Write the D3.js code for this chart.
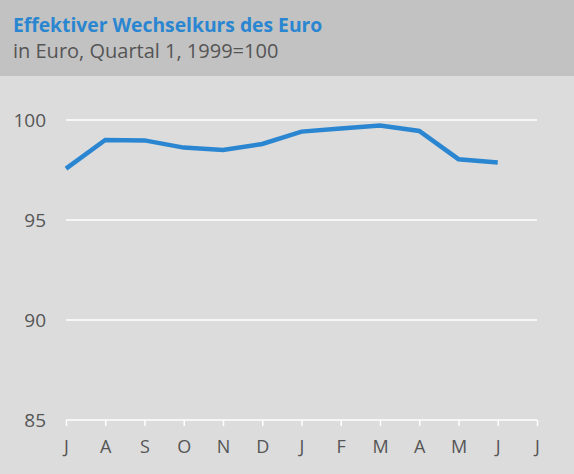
<!DOCTYPE html>
<html>
<head>
<meta charset="utf-8">
<script src="https://cdn.jsdelivr.net/npm/d3@7"></script>
<style>
  body { margin: 0; background: #dcdcdc; }
  text { font-family: "Open Sans", "Noto Sans", sans-serif; }
</style>
</head>
<body>
<div id="chart"></div>
<script>
// chart data
var months = ["J", "A", "S", "O", "N", "D", "J", "F", "M", "A", "M", "J", "J"];
var values = [97.57, 99.0, 98.98, 98.62, 98.5, 98.8, 99.42, 99.57, 99.73, 99.45, 98.04, 97.87];
var yTicks = [85, 90, 95, 100];

var svgWidth = 574;
var svgHeight = 474;

var margin = { top: 120, right: 37, bottom: 54, left: 66 };
var width = svgWidth - margin.left - margin.right;
var height = svgHeight - margin.top - margin.bottom;

var svg = d3.select("#chart")
  .append("svg")
  .attr("width", svgWidth)
  .attr("height", svgHeight);

// background + header band
svg.append("rect")
  .attr("width", svgWidth)
  .attr("height", svgHeight)
  .attr("fill", "#dcdcdc");

svg.append("rect")
  .attr("width", svgWidth)
  .attr("height", 76)
  .attr("fill", "#c2c2c2");

svg.append("text")
  .attr("x", 13)
  .attr("y", 31.5)
  .attr("fill", "#2a86d1")
  .attr("font-size", "19.3px")
  .attr("font-weight", "bold")
  .text("Effektiver Wechselkurs des Euro");

svg.append("text")
  .attr("x", 13)
  .attr("y", 58)
  .attr("fill", "#555")
  .attr("font-size", "20px")
  .text("in Euro, Quartal 1, 1999=100");

var chartGroup = svg.append("g")
  .attr("transform", `translate(${margin.left}, ${margin.top})`);

// scales
var xScale = d3.scalePoint()
  .domain(d3.range(months.length))
  .range([0, width]);

var yScale = d3.scaleLinear()
  .domain([85, 100])
  .range([height, 0]);

// gridlines
chartGroup.selectAll(".grid")
  .data(yTicks)
  .enter()
  .append("line")
  .attr("x1", 0)
  .attr("x2", width)
  .attr("y1", d => yScale(d))
  .attr("y2", d => yScale(d))
  .attr("stroke", "#fff")
  .attr("stroke-width", 1.5);

// y labels
chartGroup.selectAll(".ylab")
  .data(yTicks)
  .enter()
  .append("text")
  .attr("x", -20)
  .attr("y", d => yScale(d))
  .attr("dy", "0.36em")
  .attr("text-anchor", "end")
  .attr("fill", "#555")
  .attr("font-size", "19px")
  .text(d => d);

// x axis
var bottomAxis = d3.axisBottom(xScale)
  .tickSize(6)
  .tickPadding(14)
  .tickFormat(i => months[i]);

var xAxis = chartGroup.append("g")
  .attr("transform", `translate(0, ${height})`)
  .call(bottomAxis);

xAxis.select(".domain").remove();
xAxis.selectAll("line").attr("stroke", "#fff").attr("stroke-width", 1.5);
xAxis.selectAll("text")
  .attr("fill", "#555")
  .attr("font-size", "18px")
  .style("font-family", "'Open Sans', 'Noto Sans', sans-serif");

// data line
var line = d3.line()
  .x((d, i) => xScale(i))
  .y(d => yScale(d));

chartGroup.append("path")
  .datum(values)
  .attr("d", line)
  .attr("fill", "none")
  .attr("stroke", "#2a86d1")
  .attr("stroke-width", 4.5)
  .attr("stroke-linejoin", "miter");
</script>
</body>
</html>
